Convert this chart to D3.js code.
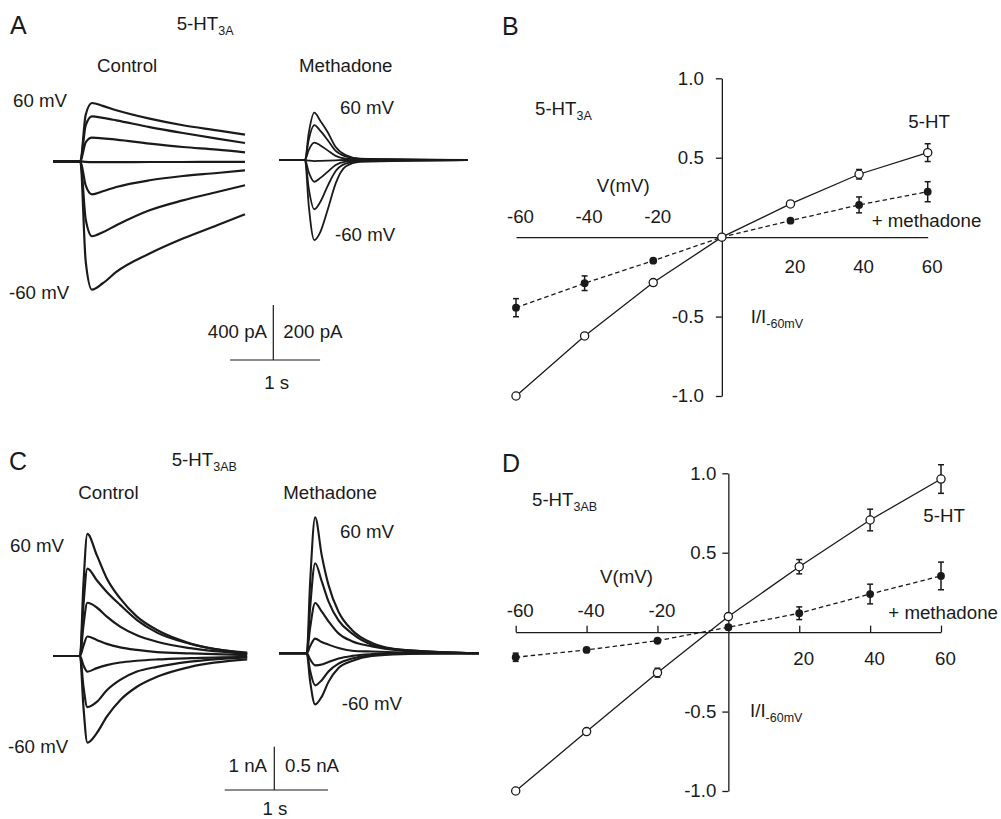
<!DOCTYPE html>
<html>
<head>
<meta charset="utf-8">
<script src="https://cdn.jsdelivr.net/npm/d3@7"></script>
<style>
  body { margin: 0; background: #fff; }
  svg { display: block; font-family: "Liberation Sans", Arial, Helvetica, sans-serif; }
  text { fill: #1a1a1a; }
</style>
</head>
<body>
<svg width="1001" height="819"></svg>
<script>
// ---------- DATA ----------
// holding potentials of the families of traces (top to bottom)
const traceVoltages = [60, 40, 20, 0, -20, -40, -60];

// panel A, 5-HT3A, control: time (s) and current (pA)
const timeA = [0, 0.30, 0.36, 0.43, 0.55, 0.70, 1.07, 1.44, 1.82, 2.13];
const currentA = [
  [0, 0, 339, 424, 403, 371, 310, 262, 225, 194],
  [0, 0, 262, 327, 316, 298, 249, 206, 165, 133],
  [0, 0, 138, 172, 167, 158, 129, 104, 85, 65],
  [0, 0, -4, -6, -6, -6, -5, -5, -4, -4],
  [0, 0, -175, -240, -218, -187, -138, -107, -85, -65],
  [0, 0, -422, -545, -516, -465, -356, -284, -223, -174],
  [0, 0, -727, -933, -887, -805, -671, -562, -465, -385]
];

// panel A, 5-HT3A, methadone: time (s) and current (pA)
const timeAm = [0, 0.289, 0.33, 0.392, 0.46, 0.54, 0.63, 0.74, 0.90, 2.10];
const currentAm = [
  [0, 0, 97, 172, 142, 102, 47, 18, 5, 0],
  [0, 0, 73, 127, 106, 73, 33, 13, 4, 0],
  [0, 0, 36, 63, 53, 35, 15, 5, 2, 0],
  [0, 0, -2, -4, -3, -2, -1, 0, 0, 0],
  [0, 0, -44, -79, -65, -43, -18, -6, -2, 0],
  [0, 0, -102, -179, -152, -95, -40, -13, -4, 0],
  [0, 0, -164, -291, -261, -182, -85, -24, -7, 0]
];

// panel C, 5-HT3AB, control: time (s) and current (nA)
const timeC = [0, 0.259, 0.291, 0.330, 0.421, 0.518, 0.647, 0.810, 1.004, 1.327, 1.877];
const currentC = [
  [0, 0, 1.62, 2.82, 2.33, 1.79, 1.33, 0.91, 0.60, 0.29, 0.08],
  [0, 0, 1.15, 2.02, 1.75, 1.48, 1.18, 0.83, 0.54, 0.28, 0.06],
  [0, 0, 0.69, 1.23, 1.12, 0.91, 0.68, 0.48, 0.33, 0.18, 0.05],
  [0, 0, 0.23, 0.45, 0.37, 0.28, 0.20, 0.14, 0.09, 0.06, 0.02],
  [0, 0, -0.21, -0.36, -0.28, -0.21, -0.15, -0.11, -0.08, -0.05, -0.02],
  [0, 0, -0.69, -1.18, -1.06, -0.79, -0.55, -0.36, -0.25, -0.13, -0.03],
  [0, 0, -1.15, -2.00, -1.78, -1.40, -1.02, -0.71, -0.48, -0.25, -0.08]
];

// panel C, 5-HT3AB, methadone: time (s) and current (nA)
const timeCm = [0, 0.269, 0.301, 0.350, 0.414, 0.479, 0.576, 0.706, 0.900, 1.191, 1.935];
const currentCm = [
  [0, 0, 0.81, 1.57, 1.13, 0.79, 0.48, 0.27, 0.12, 0.04, 0],
  [0, 0, 0.52, 1.04, 0.83, 0.60, 0.38, 0.23, 0.10, 0.04, 0],
  [0, 0, 0.29, 0.58, 0.48, 0.37, 0.23, 0.14, 0.08, 0.03, 0],
  [0, 0, 0.08, 0.17, 0.13, 0.10, 0.06, 0.03, 0.02, 0.01, 0],
  [0, 0, -0.07, -0.14, -0.13, -0.10, -0.06, -0.03, -0.01, 0, 0],
  [0, 0, -0.20, -0.37, -0.31, -0.21, -0.12, -0.06, -0.02, 0, 0],
  [0, 0, -0.32, -0.59, -0.50, -0.33, -0.17, -0.09, -0.03, -0.01, 0]
];

// I-V relations (I / I-60mV)
const ivVoltages = [-60, -40, -20, 0, 20, 40, 60];
const ivB_5ht = [-1.0, -0.622, -0.286, 0, 0.209, 0.396, 0.532];
const ivB_5htErr = [0, 0, 0, 0, 0, 0.03, 0.056];
const ivB_meth = [-0.444, -0.29, -0.148, 0, 0.104, 0.203, 0.286];
const ivB_methErr = [0.057, 0.046, 0.01, 0, 0, 0.05, 0.063];

const ivD_5ht = [-1.0, -0.626, -0.255, 0.098, 0.412, 0.706, 0.964];
const ivD_5htErr = [0, 0, 0.028, 0, 0.045, 0.068, 0.09];
const ivD_meth = [-0.158, -0.112, -0.054, 0.031, 0.119, 0.24, 0.354];
const ivD_methErr = [0.026, 0.01, 0, 0.015, 0.04, 0.062, 0.087];

const yTicks = [-1, -0.5, 0.5, 1];
const xTicks = [-60, -40, -20, 20, 40, 60];

// ---------- SETUP ----------
const svg = d3.select("svg");
const ink = "#1a1a1a";
const fs = 18.7;

// text with optional subscript: parts = [[text, isSub], ...]
function label(x, y, parts, opts = {}) {
  const t = svg.append("text")
    .attr("x", x).attr("y", y)
    .attr("font-size", opts.size || fs)
    .attr("text-anchor", opts.anchor || "start");
  if (typeof parts === "string") parts = [[parts, false]];
  let shifted = false;
  parts.forEach(([s, sub]) => {
    const ts = t.append("tspan").text(s);
    if (sub && !shifted) { ts.attr("dy", 5).attr("font-size", 12.5); shifted = true; }
    else if (sub) ts.attr("font-size", 12.5);
  });
  return t;
}

// ---------- TRACES ----------
function drawTraces(times, currents, xScale, yScale, width) {
  const line = d3.line()
    .x((d, i) => xScale(times[i]))
    .y((d) => yScale(d))
    .curve(d3.curveMonotoneX);
  svg.append("g")
    .selectAll("path")
    .data(currents)
    .join("path")
    .attr("d", line)
    .attr("fill", "none")
    .attr("stroke", ink)
    .attr("stroke-width", width)
    .attr("stroke-linejoin", "round");
}

// panel A scales (90 px per second, 400 pA / 200 pA = 55 px)
const tA = d3.scaleLinear().domain([0, 1]).range([53.3, 143.3]);
const iA = d3.scaleLinear().domain([0, 400]).range([161.3, 106.3]);
const tAm = d3.scaleLinear().domain([0, 1]).range([279, 369]);
const iAm = d3.scaleLinear().domain([0, 200]).range([160, 105]);
drawTraces(timeA, currentA, tA, iA, 2.2);
drawTraces(timeAm, currentAm, tAm, iAm, 1.8);

// panel C scales (103 px per second, 1 nA / 0.5 nA = 43.3 px)
const tC = d3.scaleLinear().domain([0, 1]).range([53.3, 156.6]);
const iC = d3.scaleLinear().domain([0, 1]).range([656, 612.7]);
const tCm = d3.scaleLinear().domain([0, 1]).range([279, 382.3]);
const iCm = d3.scaleLinear().domain([0, 0.5]).range([653.3, 610]);
drawTraces(timeC, currentC, tC, iC, 2.2);
drawTraces(timeCm, currentCm, tCm, iCm, 2.1);

// scale bars
function scaleBar(xv, yBottom, vLen, hLen) {
  const g = svg.append("g").attr("stroke", ink).attr("stroke-width", 1.2);
  g.append("line").attr("x1", xv).attr("x2", xv).attr("y1", yBottom - vLen).attr("y2", yBottom);
  g.append("line").attr("x1", xv - hLen * 0.48).attr("x2", xv + hLen * 0.52).attr("y1", yBottom).attr("y2", yBottom);
}
scaleBar(273.3, 360, iA(0) - iA(400), tA(1) - tA(0));
scaleBar(274.3, 790, iC(0) - iC(1), tC(1) - tC(0));

// panel A text
label(10, 34, "A", { size: 25 });
label(176.7, 30, [["5-HT", false], ["3A", true]]);
label(97, 71.7, "Control");
label(299, 71.7, "Methadone");
label(13, 106.7, "60 mV");
label(9, 299, "-60 mV");
label(340, 114, "60 mV");
label(335, 240.7, "-60 mV");
label(267, 338.3, "400 pA", { anchor: "end" });
label(283.3, 338.3, "200 pA");
label(276.7, 389.3, "1 s", { anchor: "middle" });

// panel C text
label(9, 470, "C", { size: 25 });
label(171.7, 466, [["5-HT", false], ["3AB", true]]);
label(78.3, 499.3, "Control");
label(283.3, 499.3, "Methadone");
label(10, 551.7, "60 mV");
label(8, 753.3, "-60 mV");
label(340, 538.3, "60 mV");
label(341.7, 710, "-60 mV");
label(267, 771.7, "1 nA", { anchor: "end" });
label(285, 771.7, "0.5 nA");
label(275, 815, "1 s", { anchor: "middle" });

// ---------- I-V PLOTS ----------
function drawIV(cfg) {
  const x = d3.scaleLinear().domain([-60, 60]).range(cfg.xRange);
  const y = d3.scaleLinear().domain([-1, 1]).range(cfg.yRange);

  // y axis
  const yAxis = svg.append("g")
    .attr("transform", `translate(${x(0)},0)`)
    .call(d3.axisLeft(y).tickValues(yTicks).tickSize(6).tickSizeOuter(0)
      .tickPadding(cfg.yPad).tickFormat((d) => d.toFixed(1)));
  yAxis.select(".domain").attr("stroke", ink).attr("stroke-width", 1.3);
  yAxis.selectAll(".tick line").attr("stroke", ink).attr("stroke-width", 1.3);
  yAxis.selectAll("text").attr("font-size", fs).attr("font-family", null).attr("fill", ink);

  // x axis, labels above for negative and below for positive voltages
  const xAxis = svg.append("g")
    .attr("transform", `translate(0,${y(0)})`)
    .call(d3.axisTop(x).tickValues(xTicks).tickSize(cfg.xTick).tickSizeOuter(0)
      .tickFormat((d) => String(d)));
  xAxis.select(".domain").attr("stroke", ink).attr("stroke-width", 1.3);
  xAxis.selectAll(".tick line").attr("stroke", ink).attr("stroke-width", 1.3);
  xAxis.selectAll("text")
    .attr("font-size", fs).attr("font-family", null).attr("fill", ink)
    .attr("dy", 0).attr("dx", 4)
    .attr("y", (d) => (d < 0 ? -cfg.negLab : cfg.posLab));

  const line = d3.line().x((d, i) => x(ivVoltages[i])).y((d) => y(d));

  svg.append("path").attr("d", line(cfg.meth))
    .attr("fill", "none").attr("stroke", ink).attr("stroke-width", 1.3)
    .attr("stroke-dasharray", "4.5,3");
  svg.append("path").attr("d", line(cfg.ht))
    .attr("fill", "none").attr("stroke", ink).attr("stroke-width", 1.3);

  // error bars
  const bars = [];
  cfg.meth.forEach((v, i) => bars.push([ivVoltages[i], v, cfg.methErr[i]]));
  cfg.ht.forEach((v, i) => bars.push([ivVoltages[i], v, cfg.htErr[i]]));
  const eb = svg.append("g").attr("stroke", ink).attr("stroke-width", 1.5);
  bars.filter((b) => b[2] > 0).forEach(([v, m, e]) => {
    eb.append("line").attr("x1", x(v)).attr("x2", x(v)).attr("y1", y(m - e)).attr("y2", y(m + e));
    eb.append("line").attr("x1", x(v) - 3).attr("x2", x(v) + 3).attr("y1", y(m - e)).attr("y2", y(m - e));
    eb.append("line").attr("x1", x(v) - 3).attr("x2", x(v) + 3).attr("y1", y(m + e)).attr("y2", y(m + e));
  });

  svg.append("g").selectAll("circle").data(cfg.meth).join("circle")
    .attr("cx", (d, i) => x(ivVoltages[i])).attr("cy", (d) => y(d))
    .attr("r", 3.9).attr("fill", ink);
  svg.append("g").selectAll("circle").data(cfg.ht).join("circle")
    .attr("cx", (d, i) => x(ivVoltages[i])).attr("cy", (d) => y(d))
    .attr("r", 4.1).attr("fill", "#fff").attr("stroke", ink).attr("stroke-width", 1.3);
}

drawIV({
  xRange: [516, 927.7], yRange: [396, 78.3], yPad: 12, xTick: 0,
  negLab: 14, posLab: 35.5,
  ht: ivB_5ht, htErr: ivB_5htErr, meth: ivB_meth, methErr: ivB_methErr
});
drawIV({
  xRange: [515.7, 941], yRange: [791, 473.3], yPad: 6, xTick: 6.5,
  negLab: 15.5, posLab: 33,
  ht: ivD_5ht, htErr: ivD_5htErr, meth: ivD_meth, methErr: ivD_methErr
});

// panel B text
label(502, 35, "B", { size: 25 });
label(535, 115, [["5-HT", false], ["3A", true]]);
label(596.7, 192, "V(mV)");
label(908.3, 128.3, "5-HT");
label(871.7, 226.7, "+ methadone");
label(750.7, 323.3, [["I/I", false], ["-60mV", true]]);

// panel D text
label(502, 472, "D", { size: 25 });
label(532, 506, [["5-HT", false], ["3AB", true]]);
label(600, 583, "V(mV)");
label(923.3, 521.7, "5-HT");
label(888.3, 619, "+ methadone");
label(750, 716.7, [["I/I", false], ["-60mV", true]]);
</script>
</body>
</html>
